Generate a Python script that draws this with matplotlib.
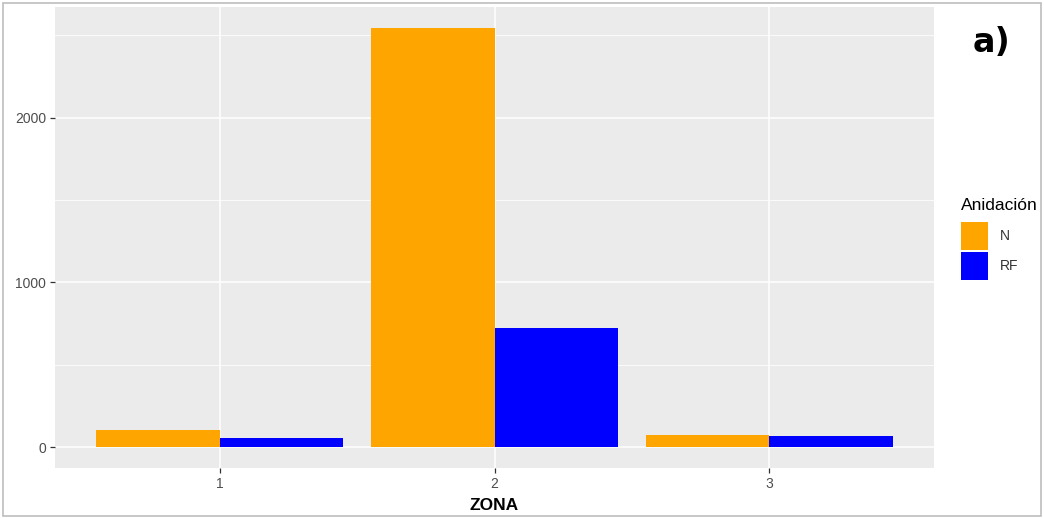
import matplotlib
matplotlib.use("Agg")
import matplotlib.pyplot as plt
import numpy as np
from matplotlib.patches import Rectangle

# Nest counts by zone and nesting type
zonas = ["1", "2", "3"]
series_names = ["N", "RF"]
valores_n = [106, 2545, 75]
valores_rf = [54, 722, 66]
colores = ["#FFA500", "#0000FF"]
yticks = [0, 1000, 2000]

plt.rcParams["font.family"] = ["Liberation Sans", "DejaVu Sans"]

fig = plt.figure(figsize=(10.44, 5.18), dpi=100)
ax = fig.add_axes([55 / 1044, 1 - 468 / 518, 879 / 1044, 461 / 518])
ax.set_facecolor("#EBEBEB")

x = np.arange(1, len(zonas) + 1)
ancho = 0.45
handles = []
for i, (vals, col) in enumerate(zip([valores_n, valores_rf], colores)):
    b = ax.bar(x - ancho / 2 + i * ancho, vals, width=ancho, color=col,
               label=series_names[i], zorder=3, linewidth=0)
    handles.append(b)

ymax = max(max(valores_n), max(valores_rf))
ax.set_xlim(0.4, 3.6)
ax.set_ylim(-0.05 * ymax, 1.05 * ymax)

# ggplot-style grid
ax.set_yticks(yticks)
ax.set_yticks([500, 1500, 2500], minor=True)
ax.set_xticks(x)
ax.set_xticklabels(zonas)
ax.grid(which="major", color="white", linewidth=1.1, zorder=0)
ax.grid(which="minor", axis="y", color="white", linewidth=0.55, zorder=0)
ax.set_axisbelow(True)
for s in ax.spines.values():
    s.set_visible(False)
ax.tick_params(axis="both", which="major", length=3.5, width=0.9,
               color="#333333", labelcolor="#4D4D4D", labelsize=10, pad=3)
ax.tick_params(which="minor", length=0)
ax.set_xlabel("ZONA", fontsize=12.5, fontweight="bold", color="black", labelpad=5)

leg = fig.legend(handles=handles, labels=series_names, title="Anidación",
                 loc="upper left", bbox_to_anchor=(955 / 1044, 1 - 192 / 518),
                 frameon=False, fontsize=10, title_fontsize=12.5,
                 handlelength=2.0, handleheight=2.65, labelspacing=0.2,
                 handletextpad=0.8, borderaxespad=0)
leg._legend_box.align = "left"
leg._legend_box.sep = 7
for t in leg.get_texts():
    t.set_color("#333333")

fig.text(991 / 1044, 1 - 42 / 518, "a)", fontsize=24, fontweight="bold",
         family="DejaVu Sans", ha="center", va="center")

# thin frame around the figure
fig.patches.append(Rectangle((0.003, 0.004), 0.994, 0.99, transform=fig.transFigure,
                             fill=False, edgecolor="#BDBDBD", linewidth=1.2))

fig.savefig("out.png", dpi=100)
